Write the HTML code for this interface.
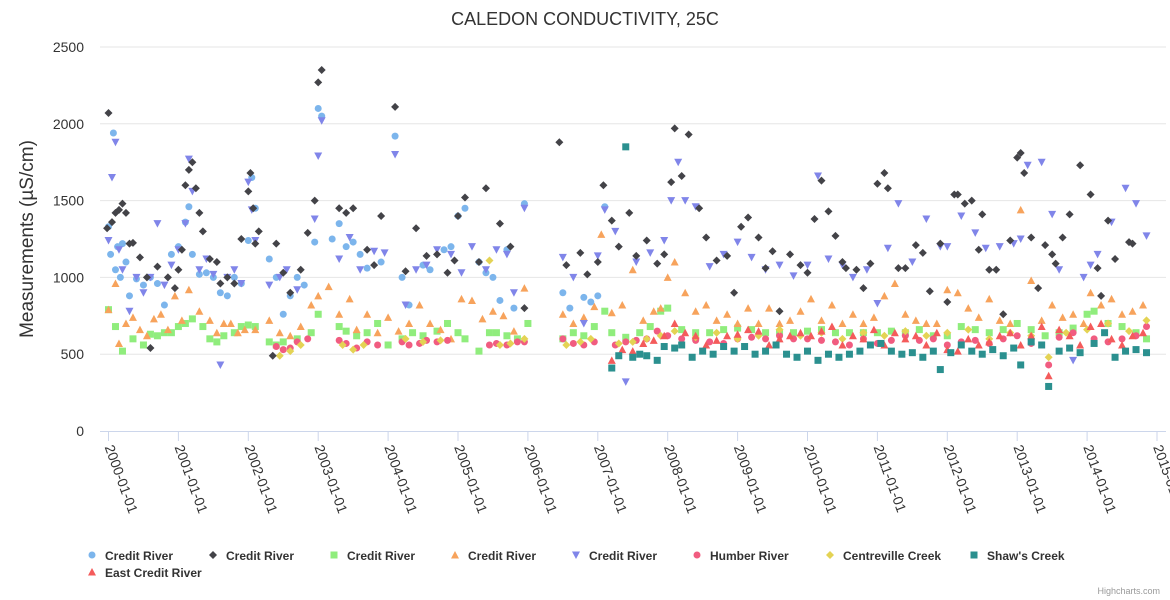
<!DOCTYPE html>
<html><head><meta charset="utf-8">
<style>
html,body{margin:0;padding:0;background:#fff;}
svg{display:block;font-family:"Liberation Sans",sans-serif;}
</style></head>
<body>
<svg id="chart" width="1170" height="600">
<text x="585" y="25" text-anchor="middle" font-size="18" fill="#333">CALEDON CONDUCTIVITY, 25C</text>
<text transform="translate(33,239) rotate(-90)" text-anchor="middle" font-size="19" fill="#333">Measurements (µS/cm)</text>
<g id="grid"></g><g id="xaxis"></g><g id="marks"></g><g id="legend"></g>
<text x="1160" y="594" text-anchor="end" font-size="9" fill="#999">Highcharts.com</text>
</svg>
<script>
const yTicks=[0,500,1000,1500,2000,2500];
const xTickLabels=["2000-01-01","2001-01-01","2002-01-01","2003-01-01","2004-01-01","2005-01-01","2006-01-01","2007-01-01","2008-01-01","2009-01-01","2010-01-01","2011-01-01","2012-01-01","2013-01-01","2014-01-01","2015-01-01"];
const seriesNames=["Credit River","Credit River","Credit River","Credit River","Credit River","Humber River","Centreville Creek","Shaw's Creek","East Credit River"];
// times in decimal years, values in µS/cm
const tCR1=[2000.0,2000.03,2000.07,2000.1,2000.13,2000.17,2000.2,2000.25,2000.3,2000.4,2000.5,2000.6,2000.7,2000.8,2000.9,2001.0,2001.1,2001.15,2001.2,2001.3,2001.4,2001.5,2001.6,2001.7,2001.8,2001.9,2002.0,2002.05,2002.1,2002.3,2002.4,2002.5,2002.6,2002.7,2002.8,2002.95,2003.0,2003.05,2003.2,2003.3,2003.4,2003.5,2003.6,2003.7,2003.9,2004.1,2004.2,2004.3,2004.5,2004.6,2004.8,2004.9,2005.0,2005.1,2005.3,2005.4,2005.5,2005.6,2005.7,2005.8,2005.95,2006.5,2006.6,2006.8,2006.9,2007.0,2007.1];
const vCR1=[1330,1150,1940,1050,1200,1000,1220,1100,880,990,950,1000,960,820,1150,1200,1360,1460,1150,1020,1030,1000,900,880,1000,960,1240,1650,1450,1120,1000,760,880,1000,950,1230,2100,2050,1250,1350,1200,1230,1150,1060,1100,1920,1000,820,1080,1050,1180,1200,1400,1450,1100,1030,1000,850,1180,800,1480,900,800,870,840,880,1460];
const tCR2=[1999.98,2000.0,2000.05,2000.1,2000.15,2000.2,2000.25,2000.3,2000.35,2000.45,2000.55,2000.6,2000.7,2000.85,2000.95,2001.0,2001.05,2001.1,2001.15,2001.2,2001.25,2001.3,2001.35,2001.45,2001.55,2001.6,2001.7,2001.8,2001.9,2002.0,2002.03,2002.07,2002.1,2002.15,2002.35,2002.4,2002.5,2002.6,2002.75,2002.85,2002.95,2003.0,2003.05,2003.3,2003.4,2003.5,2003.7,2003.8,2003.9,2004.1,2004.25,2004.4,2004.55,2004.7,2004.85,2004.95,2005.0,2005.1,2005.3,2005.4,2005.6,2005.75,2005.95,2006.45,2006.55,2006.75,2006.85,2007.0,2007.08,2007.2,2007.3,2007.45,2007.55,2007.7,2007.85,2007.95,2008.05,2008.1,2008.2,2008.3,2008.45,2008.55,2008.7,2008.85,2008.95,2009.05,2009.15,2009.3,2009.4,2009.5,2009.6,2009.75,2009.9,2010.0,2010.1,2010.2,2010.3,2010.4,2010.5,2010.55,2010.7,2010.8,2010.9,2011.0,2011.1,2011.15,2011.3,2011.4,2011.55,2011.65,2011.75,2011.9,2012.0,2012.1,2012.15,2012.25,2012.35,2012.45,2012.5,2012.6,2012.7,2012.8,2012.9,2013.0,2013.05,2013.1,2013.2,2013.3,2013.4,2013.5,2013.55,2013.65,2013.75,2013.9,2014.05,2014.15,2014.2,2014.3,2014.4,2014.6,2014.65,2014.7,2014.75];
const vCR2=[1320,2070,1360,1420,1440,1480,1420,1220,1225,1130,1000,540,1070,1000,930,1050,1180,1600,1700,1750,1580,1420,1300,1120,1100,960,1000,960,1250,1560,1680,1450,1220,1300,490,1220,1030,900,1050,1290,1500,2270,2350,1450,1420,1450,1180,1080,1400,2110,1040,1320,1140,1150,1030,1110,1400,1520,1100,1580,1350,1200,800,1880,1080,1160,1020,1100,1600,1370,1200,1420,1140,1240,1090,1150,1620,1970,1660,1930,1450,1260,1110,1140,900,1330,1390,1260,1060,1170,780,1150,1080,1030,1380,1630,1430,1270,1100,1060,1050,930,1090,1610,1680,1580,1060,1060,1210,1160,910,1220,840,1540,1540,1480,1500,1180,1410,1050,1050,760,1240,1780,1810,1680,1260,930,1210,1150,1090,1260,1410,1730,1540,1060,880,1370,1120,1230,1220];
const tCR3=[2000.0,2000.1,2000.2,2000.35,2000.5,2000.6,2000.7,2000.8,2000.9,2001.0,2001.1,2001.2,2001.35,2001.45,2001.55,2001.65,2001.8,2001.9,2002.0,2002.1,2002.3,2002.4,2002.5,2002.7,2002.9,2003.0,2003.3,2003.4,2003.55,2003.7,2003.85,2004.0,2004.2,2004.35,2004.5,2004.7,2004.85,2005.0,2005.1,2005.3,2005.45,2005.55,2005.7,2005.85,2006.0,2006.5,2006.65,2006.8,2006.95,2007.1,2007.2,2007.4,2007.6,2007.75,2007.9,2008.0,2008.2,2008.4,2008.6,2008.8,2009.0,2009.2,2009.4,2009.6,2009.8,2010.0,2010.2,2010.4,2010.6,2010.8,2011.0,2011.2,2011.4,2011.6,2011.8,2012.0,2012.2,2012.4,2012.6,2012.8,2013.0,2013.2,2013.4,2013.6,2013.8,2014.0,2014.1,2014.3,2014.5,2014.7,2014.85];
const vCR3=[790,680,520,600,560,630,620,640,640,680,700,730,680,600,580,620,640,680,690,680,580,560,580,600,640,760,680,650,620,640,700,560,600,640,620,650,700,640,600,520,640,640,620,600,700,600,640,620,680,780,640,610,640,680,780,800,660,640,640,660,670,660,640,640,640,650,660,640,640,640,640,650,640,660,620,620,680,660,640,660,700,660,620,640,670,760,780,700,680,640,600];
const tCR4=[2000.0,2000.1,2000.15,2000.25,2000.35,2000.45,2000.55,2000.65,2000.75,2000.85,2000.95,2001.05,2001.15,2001.3,2001.45,2001.55,2001.65,2001.75,2001.85,2001.95,2002.1,2002.3,2002.45,2002.6,2002.75,2002.9,2003.0,2003.15,2003.3,2003.45,2003.55,2003.7,2003.85,2004.0,2004.15,2004.3,2004.45,2004.6,2004.75,2004.9,2005.05,2005.2,2005.35,2005.5,2005.65,2005.8,2005.95,2006.5,2006.65,2006.8,2006.95,2007.05,2007.2,2007.35,2007.5,2007.65,2007.8,2007.9,2008.0,2008.1,2008.25,2008.4,2008.55,2008.7,2008.85,2009.0,2009.15,2009.3,2009.45,2009.6,2009.75,2009.9,2010.05,2010.2,2010.35,2010.5,2010.65,2010.8,2010.95,2011.1,2011.25,2011.4,2011.55,2011.7,2011.85,2012.0,2012.15,2012.3,2012.45,2012.6,2012.75,2012.9,2013.05,2013.2,2013.35,2013.5,2013.65,2013.8,2013.95,2014.05,2014.2,2014.35,2014.5,2014.65,2014.8];
const vCR4=[790,960,570,700,740,660,620,730,760,660,880,720,920,780,720,640,700,700,640,660,660,720,640,620,680,820,880,940,760,860,660,760,640,740,650,700,820,700,660,600,860,850,730,780,750,650,930,760,700,740,810,1280,770,820,1050,720,780,800,1000,1100,900,780,820,720,760,700,800,700,800,700,720,780,860,720,820,700,760,700,740,880,960,760,720,700,700,920,900,800,740,860,720,700,1440,980,720,820,740,760,700,900,820,860,760,780,820];
const tCR5=[2000.0,2000.05,2000.1,2000.15,2000.2,2000.3,2000.4,2000.5,2000.6,2000.7,2000.8,2000.9,2001.0,2001.1,2001.15,2001.2,2001.3,2001.4,2001.5,2001.6,2001.7,2001.8,2001.9,2002.0,2002.05,2002.1,2002.3,2002.45,2002.55,2002.7,2002.95,2003.0,2003.05,2003.3,2003.45,2003.6,2003.8,2003.95,2004.1,2004.25,2004.4,2004.55,2004.7,2004.9,2005.05,2005.2,2005.4,2005.55,2005.7,2005.8,2005.95,2006.5,2006.65,2006.8,2007.0,2007.1,2007.25,2007.4,2007.55,2007.75,2007.95,2008.05,2008.15,2008.25,2008.4,2008.6,2008.8,2009.0,2009.2,2009.4,2009.6,2009.8,2010.0,2010.15,2010.3,2010.5,2010.65,2010.85,2011.0,2011.15,2011.3,2011.5,2011.7,2011.9,2012.0,2012.2,2012.4,2012.55,2012.75,2012.95,2013.05,2013.15,2013.35,2013.5,2013.6,2013.8,2013.95,2014.05,2014.15,2014.35,2014.55,2014.7,2014.85];
const vCR5=[1240,1650,1880,1180,1050,780,1000,900,1000,1350,950,1080,1180,1350,1770,1560,1050,1120,1020,430,1000,1050,960,1620,1440,1240,950,1000,1050,920,1380,1790,2020,1120,1260,1050,1170,1160,1800,820,1050,1080,1180,1150,1030,1200,1050,1180,1150,900,1450,1130,1000,700,1140,1440,1300,320,1100,1160,1240,1500,1750,1500,1460,1070,1150,1230,1130,1050,1080,1010,1080,1660,1120,1080,1000,1050,830,1190,1480,1100,1380,1200,1200,1400,1290,1190,1200,1220,1250,1730,1750,1410,1050,460,1000,1080,1150,1360,1580,1480,1270,1150,1000];
const tHR=[2002.4,2002.5,2002.6,2002.7,2002.85,2003.3,2003.4,2003.55,2003.7,2003.85,2004.2,2004.3,2004.45,2004.55,2004.7,2004.85,2005.45,2005.55,2005.7,2005.85,2005.95,2006.5,2006.65,2006.8,2006.95,2007.25,2007.4,2007.55,2007.7,2007.85,2008.0,2008.2,2008.4,2008.6,2008.8,2009.0,2009.2,2009.4,2009.6,2009.8,2010.0,2010.2,2010.4,2010.6,2010.8,2011.0,2011.2,2011.4,2011.6,2011.8,2012.0,2012.2,2012.4,2012.6,2012.8,2013.0,2013.2,2013.45,2013.6,2013.8,2014.1,2014.3,2014.5,2014.7,2014.85];
const vHR=[550,530,540,580,600,590,570,540,580,560,580,560,570,590,580,590,560,570,560,580,580,600,570,560,580,560,580,590,600,650,620,600,590,580,570,600,610,600,620,600,600,590,580,560,600,570,590,620,590,600,560,580,590,570,600,620,570,430,610,640,600,580,600,620,680];
const tCC=[2002.45,2002.6,2002.75,2003.35,2003.5,2003.65,2004.25,2004.5,2004.75,2005.45,2005.6,2005.75,2005.95,2006.55,2006.75,2006.9,2007.3,2007.5,2007.7,2007.9,2008.1,2008.4,2008.7,2009.0,2009.3,2009.6,2009.9,2010.2,2010.5,2010.8,2011.1,2011.4,2011.7,2012.0,2012.3,2012.6,2012.9,2013.2,2013.45,2013.7,2014.0,2014.3,2014.6,2014.85];
const vCC=[490,520,560,560,530,560,600,580,590,1110,560,570,600,560,580,600,570,580,600,620,650,610,640,600,620,660,620,640,600,640,620,650,620,640,660,600,640,620,480,640,660,700,650,720];
const tSC=[2007.2,2007.3,2007.4,2007.5,2007.6,2007.7,2007.85,2007.95,2008.1,2008.2,2008.35,2008.5,2008.65,2008.8,2008.95,2009.1,2009.25,2009.4,2009.55,2009.7,2009.85,2010.0,2010.15,2010.3,2010.45,2010.6,2010.75,2010.9,2011.05,2011.2,2011.35,2011.5,2011.65,2011.8,2011.9,2012.05,2012.2,2012.35,2012.5,2012.65,2012.8,2012.95,2013.05,2013.2,2013.35,2013.45,2013.6,2013.75,2013.9,2014.1,2014.25,2014.4,2014.55,2014.7,2014.85];
const vSC=[410,490,1850,480,500,490,460,550,540,560,480,520,500,550,520,550,500,520,560,500,480,520,460,500,480,500,520,560,570,520,500,510,480,520,400,510,560,520,500,530,490,540,430,580,560,290,520,540,510,570,640,480,520,530,510];
const tEC=[2007.2,2007.35,2007.5,2007.65,2007.8,2007.95,2008.1,2008.25,2008.4,2008.55,2008.7,2008.85,2009.0,2009.15,2009.3,2009.45,2009.6,2009.75,2009.9,2010.05,2010.2,2010.35,2010.5,2010.65,2010.8,2010.95,2011.1,2011.25,2011.4,2011.55,2011.7,2011.85,2012.0,2012.15,2012.3,2012.45,2012.6,2012.75,2012.9,2013.05,2013.2,2013.35,2013.45,2013.6,2013.75,2013.9,2014.05,2014.2,2014.35,2014.5,2014.65,2014.8];
const vEC=[460,530,520,570,590,620,700,640,620,560,590,620,630,660,650,560,600,620,640,620,650,680,560,620,600,660,560,640,600,620,560,640,530,520,600,560,580,620,640,560,620,680,360,660,620,560,680,700,600,560,620,640];

const W=1170,L=100,R=1160,T=47,B=431;
const x0=108.5,pxPerYear=69.9;
function xs(t){return x0+(t-2000)*pxPerYear;}
function ys(v){return B-(v/2500)*(B-T);}
const NS="http://www.w3.org/2000/svg";
function mk(tag,attrs,parent){const e=document.createElementNS(NS,tag);for(const k in attrs)e.setAttribute(k,attrs[k]);parent.appendChild(e);return e;}
const grid=document.getElementById('grid'),xa=document.getElementById('xaxis'),marks=document.getElementById('marks'),leg=document.getElementById('legend');
yTicks.forEach(v=>{
  if(v>0){const g=mk('line',{x1:L,x2:1166,y1:ys(v),y2:ys(v),stroke:'#e6e6e6','stroke-width':1},grid);
  
  }
  const t=mk('text',{x:84,y:ys(v)+5,'text-anchor':'end','font-size':14,fill:'#333'},grid);
  t.textContent=v;
  
  
});
const ax=mk('line',{x1:L,x2:1166,y1:B+0.5,y2:B+0.5,stroke:'#ccd6eb','stroke-width':1},xa);


xTickLabels.forEach((lab,i)=>{
  const x=xs(2000+i);
  const tk=mk('line',{x1:x,x2:x,y1:B,y2:B+10,stroke:'#ccd6eb'},xa);
  
  
  const t=mk('text',{x:x-4,y:B+16,'font-size':14,fill:'#333',transform:`rotate(70 ${x-4} ${B+16})`},xa);
  t.textContent=lab;
  
  
});
const colors=['#7cb5ec','#434348','#90ed7d','#f7a35c','#8085e9','#f15c80','#e4d354','#2b908f','#f45b5b'];
const shapes=['circle','diamond','square','triangle','triangle-down','circle','diamond','square','triangle'];
function sym(shape,x,y,c,p){
  if(shape==='circle')return mk('circle',{cx:x,cy:y,r:3.5,fill:c},p);
  if(shape==='square')return mk('rect',{x:x-3.5,y:y-3.5,width:7,height:7,fill:c},p);
  let pts;
  if(shape==='diamond')pts=[[x,y-4],[x+4,y],[x,y+4],[x-4,y]];
  else if(shape==='triangle')pts=[[x,y-4],[x+4,y+3.5],[x-4,y+3.5]];
  else pts=[[x-4,y-3.5],[x+4,y-3.5],[x,y+4]];
  return mk('polygon',{points:pts.map(p=>p.join(',')).join(' '),fill:c},p);
}
const data=[[tCR1,vCR1],[tCR2,vCR2],[tCR3,vCR3],[tCR4,vCR4],[tCR5,vCR5],[tHR,vHR],[tCC,vCC],[tSC,vSC],[tEC,vEC]];
const order=[2,3,5,6,8,7,0,4,1];
order.forEach(si=>{
  const g=mk('g',{},marks);
  
  
  const [ts,vs]=data[si];
  ts.forEach((t,i)=>{
    const m=sym(shapes[si],xs(t),ys(vs[i]),colors[si],g);
    
    
  });
});
const legX=[92,213,334,455,576,697,830,974,92],legY=[556,556,556,556,556,556,556,556,573];
seriesNames.forEach((n,i)=>{
  const g=mk('g',{},leg);
  
  
  sym(shapes[i],legX[i],legY[i]-1,colors[i],g);
  const t=mk('text',{x:legX[i]+13,y:legY[i]+4,'font-size':12,'font-weight':'bold',fill:'#333'},g);
  t.textContent=n;
});
</script>
</body></html>
